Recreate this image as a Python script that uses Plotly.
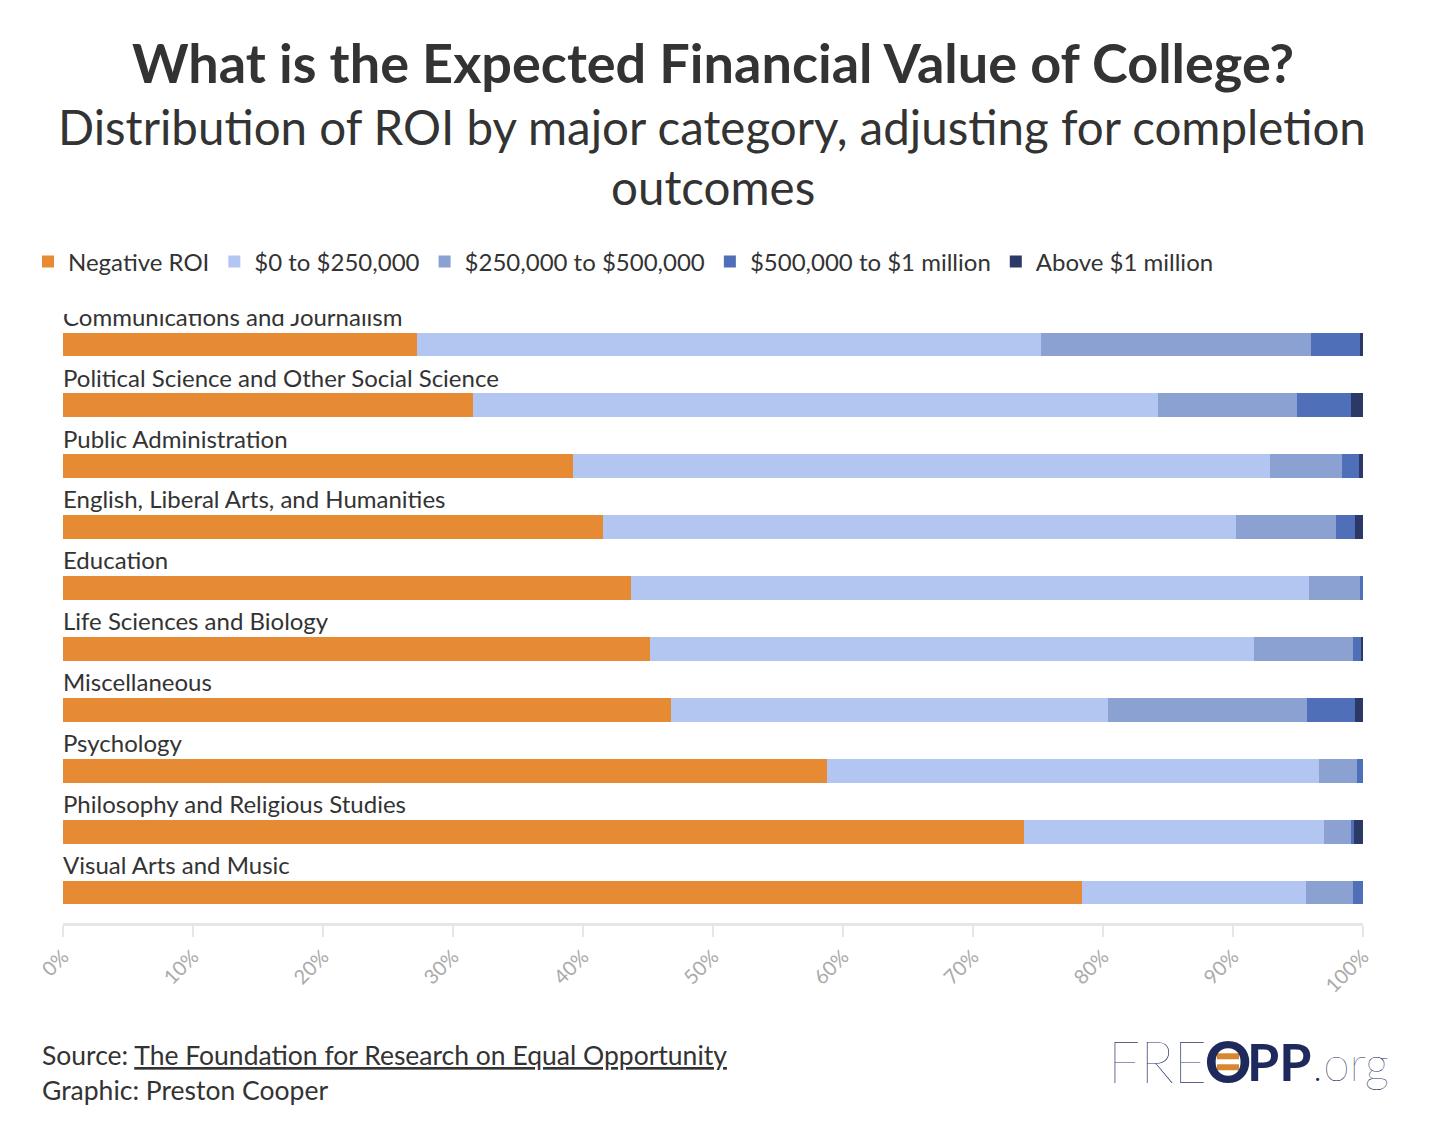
import plotly.graph_objects as go

categories = [
    "Communications and Journalism",
    "Political Science and Other Social Science",
    "Public Administration",
    "English, Liberal Arts, and Humanities",
    "Education",
    "Life Sciences and Biology",
    "Miscellaneous",
    "Psychology",
    "Philosophy and Religious Studies",
    "Visual Arts and Music",
]

negative_roi = [27.2, 31.5, 39.2, 41.5, 43.7, 45.15, 46.8, 58.8, 73.95, 78.35]
roi_0_250k = [48.0, 52.75, 53.65, 48.7, 52.15, 46.45, 33.6, 37.8, 23.05, 17.25]
roi_250k_500k = [20.8, 10.65, 5.55, 7.7, 3.9, 7.6, 15.3, 2.9, 2.05, 3.65]
roi_500k_1m = [3.8, 4.2, 1.3, 1.5, 0.25, 0.65, 3.7, 0.5, 0.25, 0.75]
roi_above_1m = [0.2, 0.9, 0.3, 0.6, 0.0, 0.15, 0.6, 0.0, 0.7, 0.0]

series_names = ["Negative ROI", "$0 to $250,000", "$250,000 to $500,000",
                "$500,000 to $1 million", "Above $1 million"]
series_values = [negative_roi, roi_0_250k, roi_250k_500k, roi_500k_1m, roi_above_1m]
series_colors = ["#E68A33", "#B3C6F2", "#8BA1D1", "#4F6FB8", "#2C3865"]

tick_values = [0, 10, 20, 30, 40, 50, 60, 70, 80, 90, 100]
tick_labels = [f"{v}%" for v in tick_values]

FONT = "Lato"
TEXT = "#333333"
NAVY = "#1F2A5C"
LOGO_ORANGE = "#D9862E"

# page has an 8px body margin; lay out in screenshot pixels and convert
OFF = 8
W, H = 1448 - 2 * OFF, 1134 - 2 * OFF
ML = 63 - OFF
MT = 313.5 - OFF
PW, PH = 1300, 610
MR = W - ML - PW
MB = H - MT - PH


def px_x(px):
    return (px - OFF - ML) / PW


def px_y(py):
    return (MT + PH - (py - OFF)) / PH


rows = list(range(len(categories)))

fig = go.Figure()
for name, vals, col in zip(series_names, series_values, series_colors):
    fig.add_trace(go.Bar(
        x=vals, y=rows, orientation="h", name=name,
        marker=dict(color=col, line=dict(width=0)),
        width=0.39,
        hoverinfo="skip",
    ))

# category labels above the bars (clipped to plot area like the original)
fig.add_trace(go.Scatter(
    x=[0] * len(categories),
    y=[r - 0.405 for r in rows],
    mode="text",
    text=categories,
    textposition="middle right",
    textfont=dict(family=FONT, size=24, color=TEXT),
    showlegend=False,
    cliponaxis=True,
    hoverinfo="skip",
))

fig.update_layout(
    width=W, height=H,
    barmode="stack",
    bargap=0,
    paper_bgcolor="white", plot_bgcolor="white",
    margin=dict(l=ML, r=MR, t=MT, b=MB),
    font=dict(family=FONT, color=TEXT),
    showlegend=True,
    legend=dict(
        orientation="h",
        xref="container", yref="container",
        x=(28 - OFF) / W, y=1 - (262 - OFF) / H, xanchor="left", yanchor="middle",
        font=dict(family=FONT, size=24, color=TEXT),
        itemwidth=30,
        traceorder="normal",
        bgcolor="rgba(0,0,0,0)",
    ),
    xaxis=dict(
        range=[0, 100],
        tickvals=tick_values, ticktext=tick_labels,
        tickangle=-45,
        tickfont=dict(family=FONT, size=20, color="#aaaaaa"),
        showgrid=False, zeroline=False,
        showline=True, linecolor="#e6e6e6", linewidth=3,
        ticks="outside", ticklen=11, tickwidth=2, tickcolor="#e6e6e6",
        fixedrange=True,
    ),
    yaxis=dict(
        range=[len(categories) - 0.5, -0.5],
        showticklabels=False, showgrid=False, zeroline=False, showline=False,
        fixedrange=True,
    ),
)

annotations = [
    dict(text="<b>What is the Expected Financial Value of College?</b>",
         x=px_x(713), y=px_y(62), xanchor="center",
         font=dict(size=54, color=TEXT, family=FONT)),
    dict(text="Distribution of ROI by major category, adjusting for completion",
         x=px_x(712), y=px_y(126), xanchor="center",
         font=dict(size=47.5, color=TEXT, family=FONT)),
    dict(text="outcomes",
         x=px_x(713), y=px_y(186), xanchor="center",
         font=dict(size=47.5, color=TEXT, family=FONT)),
    dict(text="Source: <u>The Foundation for Research on Equal Opportunity</u>",
         x=px_x(40), y=px_y(1056), xanchor="left",
         font=dict(size=26.5, color=TEXT, family=FONT)),
    dict(text="Graphic: Preston Cooper",
         x=px_x(40), y=px_y(1091), xanchor="left",
         font=dict(size=26.5, color=TEXT, family=FONT)),
    # logo pieces
    dict(text="FRE", x=px_x(1208), y=px_y(1062), xanchor="right", borderpad=0,
         font=dict(size=57, color=NAVY, family=FONT, weight=100)),
    dict(text="O", x=px_x(1228), y=px_y(1062), xanchor="center", borderpad=0,
         font=dict(size=57, color=NAVY, family=FONT, weight=900)),
    dict(text="PP", x=px_x(1246), y=px_y(1062), xanchor="left", borderpad=0,
         font=dict(size=52, color=NAVY, family=FONT, weight=700)),
    dict(text=".org", x=px_x(1311), y=px_y(1063), xanchor="left", borderpad=0,
         font=dict(size=48, color=NAVY, family=FONT, weight=100)),
]
for a in annotations:
    a.update(xref="paper", yref="paper", yanchor="middle", showarrow=False)
    fig.add_annotation(**a)

# orange bars inside the logo "O"
for top, bot in [(1054, 1060), (1065, 1071)]:
    fig.add_shape(type="rect", xref="paper", yref="paper",
                  x0=px_x(1217), x1=px_x(1239), y0=px_y(bot), y1=px_y(top),
                  fillcolor=LOGO_ORANGE, line=dict(width=0), layer="above")

fig.write_html("out.html")
